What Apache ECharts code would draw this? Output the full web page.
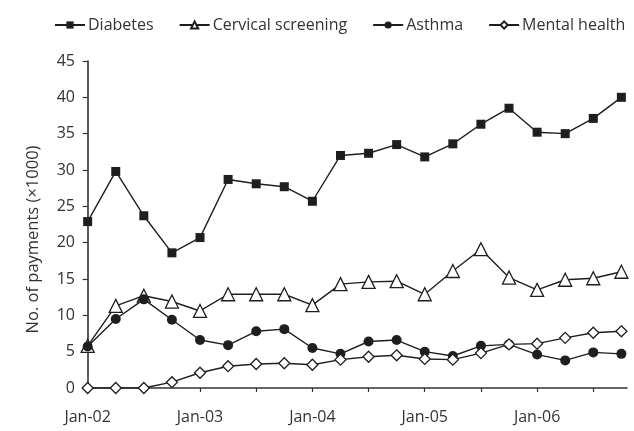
<!DOCTYPE html>
<html>
<head>
<meta charset="utf-8">
<script src="https://cdn.jsdelivr.net/npm/echarts@6/dist/echarts.min.js"></script>
<style>
  html, body { margin: 0; padding: 0; background: #fff; }
  #chart { width: 634px; height: 431px; }
</style>
</head>
<body>
<div id="chart"></div>
<script>
// quarterly points, Jan-02 .. Oct-06 (index = quarter number)
const seriesNames = ['Diabetes', 'Cervical screening', 'Asthma', 'Mental health']
const diabetes = [22.9, 29.8, 23.7, 18.6, 20.7, 28.7, 28.1, 27.7, 25.7, 32.0, 32.3, 33.5, 31.8, 33.6, 36.3, 38.5, 35.2, 35.0, 37.1, 40.0]
const cervical = [5.8, 11.3, 12.7, 11.9, 10.6, 12.9, 12.9, 12.9, 11.4, 14.3, 14.6, 14.7, 12.9, 16.1, 19.1, 15.2, 13.5, 14.9, 15.1, 16.0]
const asthma = [5.7, 9.5, 12.2, 9.4, 6.6, 5.9, 7.8, 8.1, 5.5, 4.7, 6.4, 6.6, 5.0, 4.4, 5.8, 6.0, 4.6, 3.8, 4.9, 4.7]
const mental = [0, 0, 0, 0.8, 2.1, 3.0, 3.3, 3.4, 3.2, 3.9, 4.3, 4.5, 4.0, 3.9, 4.8, 6.0, 6.1, 6.9, 7.6, 7.8]
const tickLabels = ['Jan-02', 'Jan-03', 'Jan-04', 'Jan-05', 'Jan-06']
const tickPositions = [2, 4, 6, 8, 10, 12, 14, 16, 18]   // tick every half year
const labelPositions = [0, 4, 8, 12, 16]

const ink = '#1e1e1e'
const font = 'Open Sans'

const chart = echarts.init(document.getElementById('chart'))

const toPoints = arr => arr.map((v, i) => [i, v])

const mkSeries = (name, data, symbol, size, hollow) => ({
  name,
  type: 'line',
  data: toPoints(data),
  symbol,
  symbolSize: size,
  showAllSymbol: true,
  lineStyle: { color: ink, width: 1.4 },
  itemStyle: hollow
    ? { color: '#fff', borderColor: ink, borderWidth: 1.3 }
    : { color: ink, borderWidth: 0 },
  emphasis: { disabled: true }
})

const option = {
  animation: false,
  textStyle: { fontFamily: font },
  legend: {
    left: 54,
    top: 17,
    width: 580,
    padding: 0,
    itemWidth: 30,
    itemHeight: 9,
    itemGap: 25,
    textStyle: { fontFamily: font, fontSize: 16, color: '#333', padding: [0, 0, 0, -2] },
    data: seriesNames
  },
  grid: { left: 84, right: 7, top: 61, bottom: 43 },
  xAxis: {
    type: 'value',
    min: -0.13,
    max: 19.2,
    splitLine: { show: false },
    axisLine: { lineStyle: { color: '#333', width: 1.6 } },
    axisTick: { show: true, customValues: tickPositions, length: 4, lineStyle: { color: '#333', width: 1.2 } },
    axisLabel: {
      customValues: labelPositions,
      margin: 21,
      fontSize: 16,
      color: '#333',
      fontFamily: font,
      formatter: v => tickLabels[Math.round(v / 4)]
    }
  },
  yAxis: {
    type: 'value',
    min: 0,
    max: 45,
    interval: 5,
    name: 'No. of payments (×1000)',
    nameLocation: 'middle',
    nameGap: 42,
    nameTextStyle: { fontSize: 16.5, color: '#333', fontFamily: font, padding: [0, 30, 0, 0] },
    splitLine: { show: false },
    axisLine: { show: true, lineStyle: { color: '#333', width: 1.6 } },
    axisTick: { show: true, length: 5, lineStyle: { color: '#333', width: 1.2 } },
    axisLabel: { fontSize: 16, color: '#333', margin: 9, fontFamily: font }
  },
  series: [
    mkSeries('Diabetes', diabetes, 'rect', 9, false),
    mkSeries('Cervical screening', cervical, 'triangle', 13, true),
    mkSeries('Asthma', asthma, 'circle', 10, false),
    mkSeries('Mental health', mental, 'diamond', 11, true)
  ]
}

chart.setOption(option)
</script>
</body>
</html>
